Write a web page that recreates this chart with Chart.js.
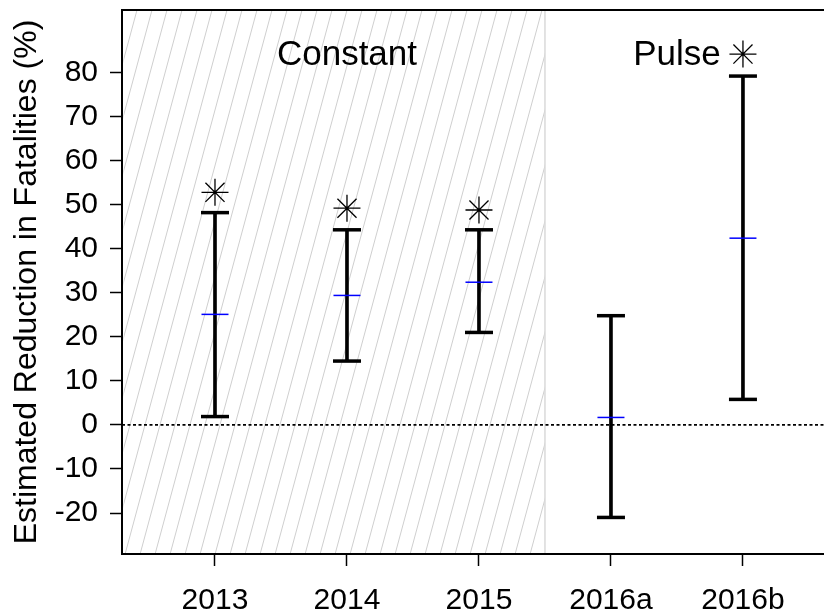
<!DOCTYPE html>
<html>
<head>
<meta charset="utf-8">
<script src="https://cdn.jsdelivr.net/npm/chart.js@4.4.0/dist/chart.umd.min.js"></script>
<style>
  html, body { margin: 0; padding: 0; background: #fff; overflow: hidden; }
  #myChart { display: block; }
</style>
</head>
<body>
<canvas id="myChart" width="824" height="616"></canvas>
<script>
// values
const years = ['2013', '2014', '2015', '2016a', '2016b'];
const xPos = [1, 2, 3, 4, 5];
const estimate = [25.1, 29.4, 32.4, 1.7, 42.4];
const lower = [1.9, 14.5, 21.0, -21.0, 5.8];
const upper = [48.2, 44.3, 44.3, 24.8, 79.2];
const starY = [52.8, 49.2, 48.8, null, 84.2];
const yTicks = [-20, -10, 0, 10, 20, 30, 40, 50, 60, 70, 80];
const groupLabels = ['Constant', 'Pulse'];
const groupLabelX = [2, 4.5];
const groupLabelY = 84;
const constantEnd = 3.5;

const xMin = 0.2955, xMax = 5.614;
const yMin = -29.3, yMax = 94.2;
const FONT = '"Liberation Sans", Arial, sans-serif';

const hatchPlugin = {
  id: 'hatch',
  beforeDatasetsDraw(chart) {
    const { ctx, chartArea } = chart;
    const x = chart.scales.x;
    const left = chartArea.left, top = chartArea.top, bottom = chartArea.bottom;
    const right = x.getPixelForValue(constantEnd);
    const h = bottom - top;
    const slope = 0.27;
    ctx.save();
    ctx.beginPath();
    ctx.rect(left + 1.5, top + 1, right - left - 1.5, h - 2);
    ctx.clip();
    ctx.strokeStyle = '#cfcfcf';
    ctx.lineWidth = 1;
    ctx.beginPath();
    for (let x0 = left - h * slope; x0 < right + 15; x0 += 15) {
      ctx.moveTo(x0, bottom);
      ctx.lineTo(x0 + h * slope, top);
    }
    ctx.stroke();
    ctx.restore();
    ctx.save();
    ctx.strokeStyle = '#d9d9d9';
    ctx.lineWidth = 1.5;
    ctx.beginPath();
    ctx.moveTo(right, top);
    ctx.lineTo(right, bottom);
    ctx.stroke();
    ctx.restore();
  },
  afterDraw(chart) {
    const { ctx, chartArea } = chart;
    const x = chart.scales.x, y = chart.scales.y;
    ctx.save();
    ctx.strokeStyle = '#000';
    ctx.lineWidth = 2;
    ctx.beginPath();
    ctx.moveTo(chartArea.left, chartArea.top);
    ctx.lineTo(chartArea.right, chartArea.top);
    ctx.moveTo(chartArea.left, chartArea.top);
    ctx.lineTo(chartArea.left, chartArea.bottom);
    ctx.lineTo(chartArea.right, chartArea.bottom);
    ctx.stroke();
    ctx.fillStyle = '#000';
    ctx.font = '35px ' + FONT;
    ctx.textAlign = 'center';
    ctx.textBaseline = 'middle';
    groupLabels.forEach((t, i) => {
      ctx.fillText(t, x.getPixelForValue(groupLabelX[i]), y.getPixelForValue(groupLabelY));
    });
    ctx.restore();
  }
};

const ctx = document.getElementById('myChart').getContext('2d');
new Chart(ctx, {
  type: 'bar',
  data: {
    datasets: [
      {
        type: 'line',
        data: [{ x: xMin, y: 0 }, { x: xMax, y: 0 }],
        borderColor: '#000',
        borderWidth: 1.7,
        borderDash: [3, 2.5],
        pointRadius: 0,
        order: 5
      },
      {
        type: 'bar',
        data: xPos.map((v, i) => ({ x: v, y: [lower[i], upper[i]] })),
        backgroundColor: '#000',
        borderWidth: 0,
        barThickness: 3,
        order: 4
      },
      {
        type: 'scatter',
        data: xPos.map((v, i) => ({ x: v, y: lower[i] })).concat(xPos.map((v, i) => ({ x: v, y: upper[i] }))),
        pointStyle: 'line',
        pointRadius: 14,
        borderColor: '#000',
        borderWidth: 3.5,
        order: 3
      },
      {
        type: 'scatter',
        data: xPos.map((v, i) => ({ x: v, y: estimate[i] })),
        pointStyle: 'line',
        pointRadius: 13.5,
        borderColor: '#0000ff',
        borderWidth: 1.5,
        order: 2
      },
      {
        type: 'scatter',
        data: xPos.map((v, i) => ({ x: v, y: starY[i] })).filter(p => p.y !== null),
        pointStyle: 'star',
        pointRadius: 13.5,
        borderColor: '#000',
        borderWidth: 1.3,
        order: 1
      }
    ]
  },
  options: {
    responsive: false,
    animation: false,
    devicePixelRatio: 1,
    layout: { autoPadding: false, padding: { top: 10, left: 0, right: 0, bottom: 0 } },
    plugins: {
      legend: { display: false },
      tooltip: { enabled: false }
    },
    events: [],
    scales: {
      x: {
        type: 'linear',
        offset: false,
        min: xMin,
        max: xMax,
        afterFit: (s) => { s.height = 62; s.paddingLeft = 0; s.paddingRight = 0; },
        afterBuildTicks: (s) => { s.ticks = xPos.map(v => ({ value: v })); },
        border: { display: true, color: '#000', width: 2 },
        grid: { offset: false, drawOnChartArea: false, drawTicks: true, tickLength: 12, tickColor: '#000', tickWidth: 1.5 },
        ticks: {
          color: '#000',
          padding: 17,
          maxRotation: 0,
          autoSkip: false,
          font: { family: FONT, size: 30 },
          callback: (v) => years[xPos.indexOf(v)]
        }
      },
      y: {
        type: 'linear',
        min: yMin,
        max: yMax,
        afterFit: (s) => { s.width = 122; s.paddingTop = 0; s.paddingBottom = 0; },
        afterBuildTicks: (s) => { s.ticks = yTicks.map(v => ({ value: v })); },
        border: { display: true, color: '#000', width: 2 },
        grid: { drawOnChartArea: false, drawTicks: true, tickLength: 12, tickColor: '#000', tickWidth: 1.5 },
        ticks: {
          color: '#000',
          padding: 12,
          autoSkip: false,
          font: { family: FONT, size: 30 }
        },
        title: {
          display: true,
          text: 'Estimated Reduction in Fatalities (%)',
          color: '#000',
          font: { family: FONT, size: 32 },
          padding: { top: 8, bottom: 0 }
        }
      }
    }
  },
  plugins: [hatchPlugin]
});
</script>
</body>
</html>
